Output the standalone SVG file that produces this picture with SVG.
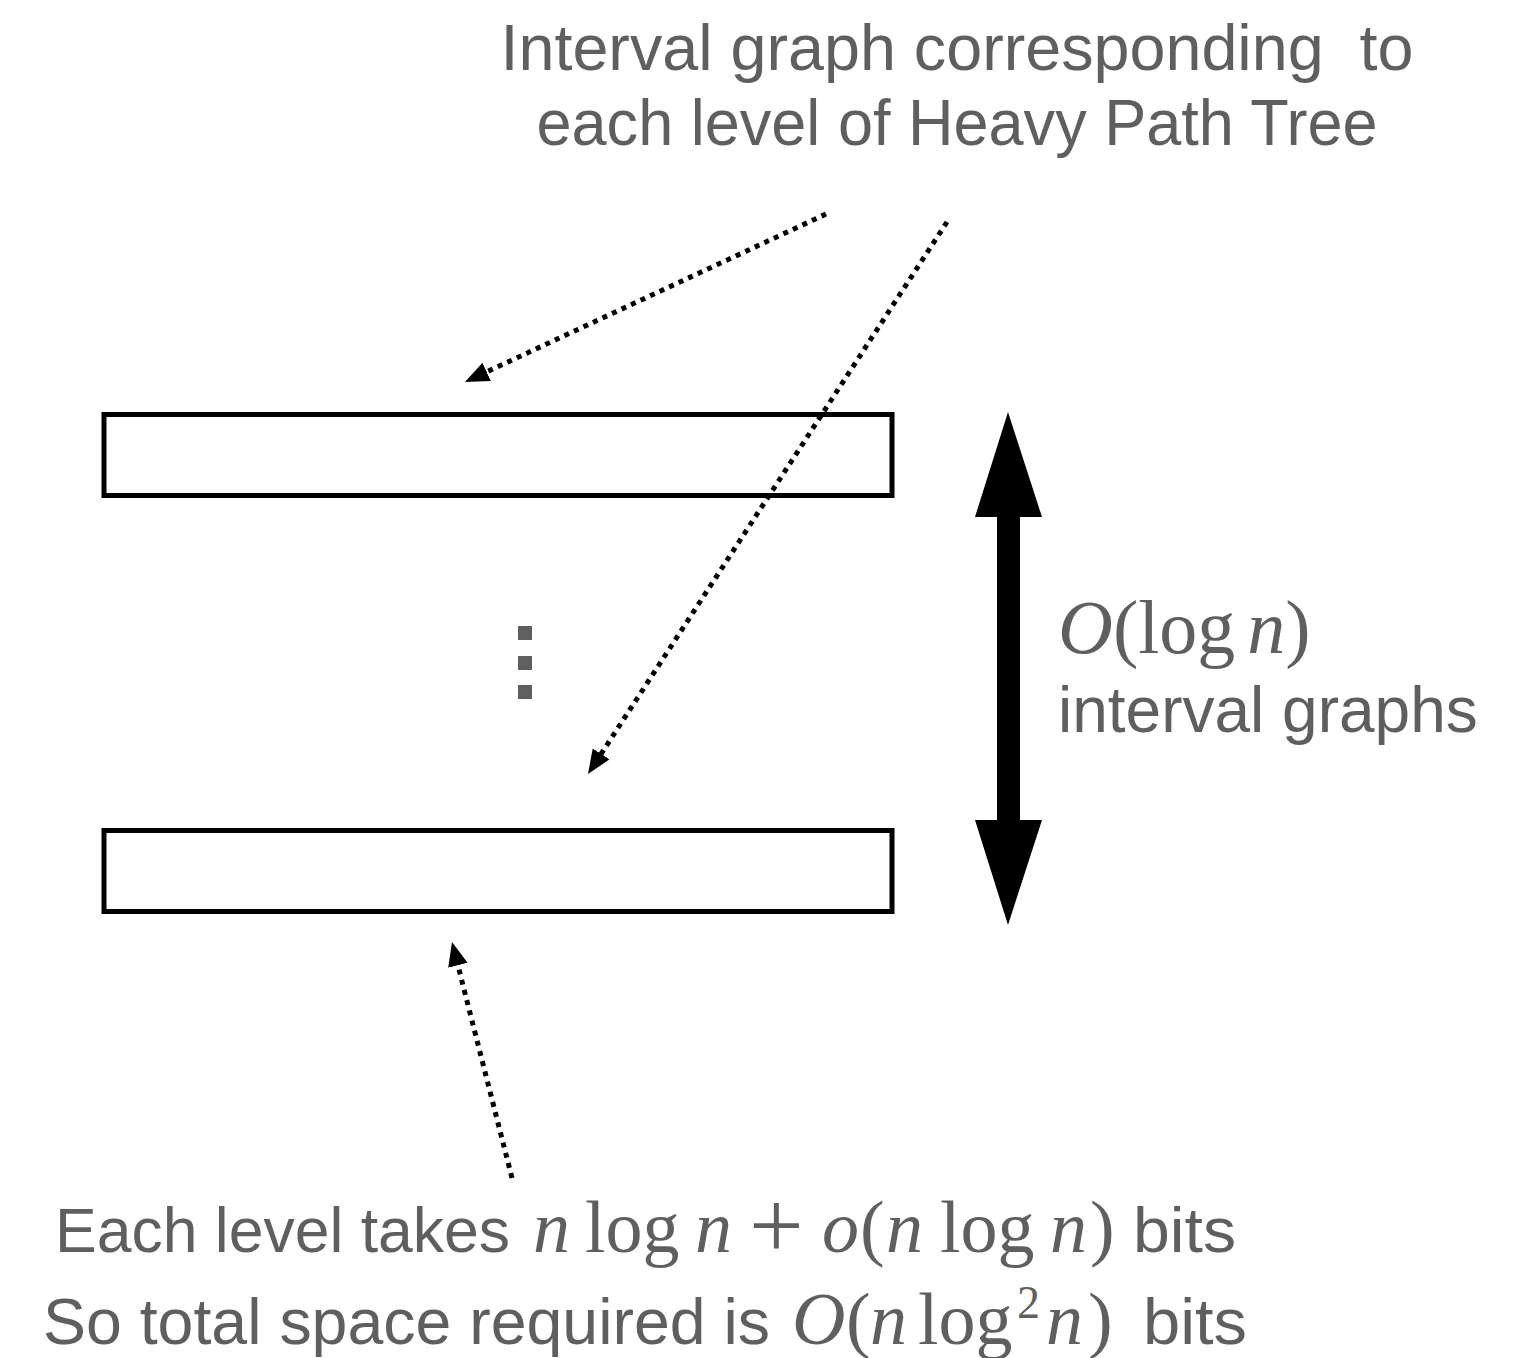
<svg xmlns="http://www.w3.org/2000/svg" width="1532" height="1358" viewBox="0 0 1532 1358">
  <style>
    .lbl { font-family: "Liberation Sans", Arial, sans-serif; fill: #5f5f5f; }
    .math { font-family: "Liberation Serif", "Times New Roman", serif; fill: #5f5f5f; }
    .it { font-style: italic; }
    .level { fill: #ffffff; stroke: #000000; stroke-width: 5; }
    .dotted { fill: none; stroke: #000000; stroke-width: 5; stroke-dasharray: 5 5.5; }
  </style>
  <defs>
    <marker id="head" viewBox="0 0 24 20" refX="2" refY="10" markerWidth="24" markerHeight="20" markerUnits="userSpaceOnUse" orient="auto">
      <path d="M0,0 L24,10 L0,20 z" fill="#000000"/>
    </marker>
  </defs>
  <rect width="1532" height="1358" fill="#ffffff"/>

  <!-- heading -->
  <g id="title">
    <text class="lbl" x="957" y="70" font-size="64.5" text-anchor="middle" textLength="913" lengthAdjust="spacingAndGlyphs" xml:space="preserve">Interval graph corresponding  to</text>
    <text class="lbl" x="957" y="145" font-size="64" text-anchor="middle" textLength="841" lengthAdjust="spacingAndGlyphs">each level of Heavy Path Tree</text>
  </g>

  <!-- interval graph levels -->
  <g id="level-top">
    <rect class="level" x="104" y="414.5" width="788" height="81"/>
  </g>
  <g id="level-bottom">
    <rect class="level" x="104" y="830.5" width="788" height="81"/>
  </g>

  <!-- vertical ellipsis between levels -->
  <g id="ellipsis" fill="#5f5f5f">
    <rect x="518" y="626" width="14" height="14"/>
    <rect x="518" y="656" width="14" height="14"/>
    <rect x="518" y="685" width="14" height="14"/>
  </g>

  <!-- height span arrow -->
  <g id="span-arrow">
    <path d="M1008,412 L1042,517 L1020,517 L1020,820 L1042,820 L1008,925 L975,820 L997,820 L997,517 L975,517 Z" fill="#000000"/>
  </g>

  <g id="span-label">
    <text class="math" x="1058" y="653" font-size="76"><tspan class="it">O</tspan>(log<tspan class="it" dx="12">n</tspan>)</text>
    <text class="lbl" x="1058" y="732" font-size="64">interval graphs</text>
  </g>

  <!-- pointers -->
  <g id="connectors">
    <line class="dotted" x1="826" y1="214" x2="484.9" y2="372.7" marker-end="url(#head)"/>
    <line class="dotted" x1="947" y1="222" x2="600" y2="755.6" marker-end="url(#head)"/>
    <line class="dotted" x1="512" y1="1178" x2="457.4" y2="963.3" marker-end="url(#head)"/>
  </g>

  <!-- space summary -->
  <g id="summary">
    <text class="lbl" x="55" y="1252" font-size="63" textLength="455" lengthAdjust="spacingAndGlyphs">Each level takes</text>
    <text class="math" y="1252" font-size="74">
      <tspan class="it" x="533">n</tspan>
      <tspan x="585">log</tspan>
      <tspan class="it" x="695">n</tspan>
      <tspan x="749" y="1258" font-size="97">+</tspan>
      <tspan class="it" x="822" y="1252">o</tspan>
      <tspan x="860">(</tspan>
      <tspan class="it" x="886">n</tspan>
      <tspan x="940">log</tspan>
      <tspan class="it" x="1050">n</tspan>
      <tspan x="1090">)</tspan>
    </text>
    <text class="lbl" x="1133" y="1252" font-size="63" textLength="103" lengthAdjust="spacingAndGlyphs">bits</text>

    <text class="lbl" x="43" y="1344" font-size="64" textLength="727" lengthAdjust="spacingAndGlyphs">So total space required is</text>
    <text class="math" y="1344" font-size="74">
      <tspan class="it" x="792">O</tspan>
      <tspan x="846">(</tspan>
      <tspan class="it" x="870">n</tspan>
      <tspan x="918">log</tspan>
      <tspan x="1017" y="1318" font-size="46">2</tspan>
      <tspan class="it" x="1046" y="1344">n</tspan>
      <tspan x="1088">)</tspan>
    </text>
    <text class="lbl" x="1143" y="1344" font-size="64" textLength="104" lengthAdjust="spacingAndGlyphs">bits</text>
  </g>
</svg>
